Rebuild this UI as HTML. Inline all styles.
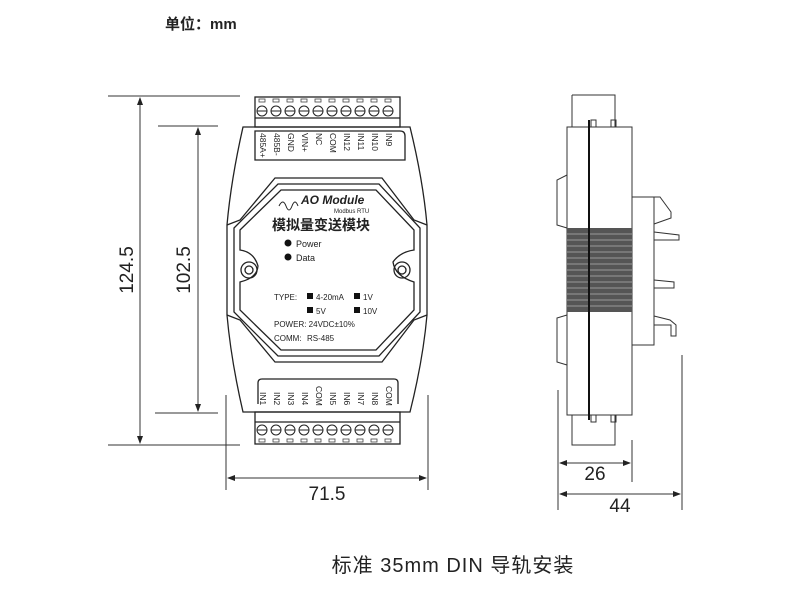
<!DOCTYPE html>
<html><head><meta charset="utf-8"><style>
body{margin:0;background:#fff;width:788px;height:600px;overflow:hidden}
svg{display:block}
text{font-family:"Liberation Sans","Noto Sans CJK SC",sans-serif;fill:#222}
</style></head><body>
<svg width="788" height="600" viewBox="0 0 788 600" xmlns="http://www.w3.org/2000/svg">
<defs>
<marker id="a" markerWidth="8" markerHeight="6" refX="7" refY="3" orient="auto-start-reverse" markerUnits="userSpaceOnUse"><path d="M0,0 L8,3 L0,6z" fill="#222"/></marker>
<g id="scr"><circle cx="0" cy="0" r="5" fill="none" stroke="#222"/><line x1="-5" y1="0" x2="5" y2="0" stroke="#222"/></g>
</defs>
<text x="165" y="29" font-size="15" font-weight="bold" font-family="Noto Sans CJK SC">单位：mm</text>

<g stroke="#333" stroke-width="1" fill="none">
<line x1="108" y1="96" x2="240" y2="96"/>
<line x1="108" y1="445" x2="240" y2="445"/>
<line x1="158" y1="126" x2="218" y2="126"/>
<line x1="155" y1="413" x2="218" y2="413"/>
<line x1="140" y1="98" x2="140" y2="443" marker-start="url(#a)" marker-end="url(#a)"/>
<line x1="198" y1="128" x2="198" y2="411" marker-start="url(#a)" marker-end="url(#a)"/>
<line x1="226" y1="395" x2="226" y2="490"/>
<line x1="428" y1="395" x2="428" y2="490"/>
<line x1="228" y1="478" x2="426" y2="478" marker-start="url(#a)" marker-end="url(#a)"/>
<line x1="558" y1="390" x2="558" y2="510"/>
<line x1="632" y1="440" x2="632" y2="482"/>
<line x1="682" y1="355" x2="682" y2="510"/>
<line x1="560" y1="463" x2="630" y2="463" marker-start="url(#a)" marker-end="url(#a)"/>
<line x1="560" y1="494" x2="680" y2="494" marker-start="url(#a)" marker-end="url(#a)"/>
</g>
<text x="133" y="270" font-size="19" transform="rotate(-90 133 270)" text-anchor="middle">124.5</text>
<text x="190" y="270" font-size="19" transform="rotate(-90 190 270)" text-anchor="middle">102.5</text>
<text x="327" y="500" font-size="19" text-anchor="middle">71.5</text>
<text x="595" y="480" font-size="19" text-anchor="middle">26</text>
<text x="620" y="512" font-size="19" text-anchor="middle">44</text>

<g stroke="#222" fill="none" stroke-width="1.3">
<path d="M243,127 L410,127 Q423,180 427,225 L427,315 Q423,360 410,412 L243,412 Q231,360 227,315 L227,225 Q231,180 243,127Z"/>
<path d="M227,225 L240,220 L275,178 L382,178 L414,220 L427,225"/>
<path d="M227,315 L240,320 L275,362 L382,362 L414,320 L427,315"/>
<path d="M234,228 L278,184 L379,184 L420,228 L420,312 L379,356 L278,356 L234,312Z"/>
<path d="M240,230 L281,190 L376,190 L414,230 L414,250 Q400,252 393,262 Q395,276 414,282 L414,310 L376,350 L281,350 L240,310 L240,282 Q257,278 258,266 Q254,252 240,250Z"/>
<circle cx="249" cy="270" r="8"/><circle cx="249" cy="270" r="4"/>
<circle cx="402" cy="270" r="8"/><circle cx="402" cy="270" r="4"/>
<path d="M255,131 L400,131 Q405,131 405,136 L405,160 L255,160Z"/>
<path d="M258,404 L258,383 Q258,379 262,379 L394,379 Q398,379 398,383 L398,404"/>
<rect x="255" y="97" width="145" height="30"/>
<line x1="255" y1="118" x2="400" y2="118"/>
<rect x="255" y="412" width="145" height="32"/>
<line x1="255" y1="422" x2="400" y2="422"/>
</g>
<g>
<use href="#scr" x="262" y="111"/><use href="#scr" x="276" y="111"/><use href="#scr" x="290" y="111"/><use href="#scr" x="304" y="111"/><use href="#scr" x="318" y="111"/><use href="#scr" x="332" y="111"/><use href="#scr" x="346" y="111"/><use href="#scr" x="360" y="111"/><use href="#scr" x="374" y="111"/><use href="#scr" x="388" y="111"/>
<use href="#scr" x="262" y="430"/><use href="#scr" x="276" y="430"/><use href="#scr" x="290" y="430"/><use href="#scr" x="304" y="430"/><use href="#scr" x="318" y="430"/><use href="#scr" x="332" y="430"/><use href="#scr" x="346" y="430"/><use href="#scr" x="360" y="430"/><use href="#scr" x="374" y="430"/><use href="#scr" x="388" y="430"/>
</g>
<g fill="none" stroke="#444" stroke-width="0.8">
<rect x="259" y="99" width="6" height="3"/><rect x="273" y="99" width="6" height="3"/><rect x="287" y="99" width="6" height="3"/><rect x="301" y="99" width="6" height="3"/><rect x="315" y="99" width="6" height="3"/><rect x="329" y="99" width="6" height="3"/><rect x="343" y="99" width="6" height="3"/><rect x="357" y="99" width="6" height="3"/><rect x="371" y="99" width="6" height="3"/><rect x="385" y="99" width="6" height="3"/>
<rect x="259" y="439" width="6" height="3"/><rect x="273" y="439" width="6" height="3"/><rect x="287" y="439" width="6" height="3"/><rect x="301" y="439" width="6" height="3"/><rect x="315" y="439" width="6" height="3"/><rect x="329" y="439" width="6" height="3"/><rect x="343" y="439" width="6" height="3"/><rect x="357" y="439" width="6" height="3"/><rect x="371" y="439" width="6" height="3"/><rect x="385" y="439" width="6" height="3"/>
</g>
<g font-size="8.5" fill="#333">
<text transform="translate(260,133) rotate(90)">485A+</text>
<text transform="translate(274,133) rotate(90)">485B-</text>
<text transform="translate(288,133) rotate(90)">GND</text>
<text transform="translate(302,133) rotate(90)">VIN+</text>
<text transform="translate(316,133) rotate(90)">NC</text>
<text transform="translate(330,133) rotate(90)">COM</text>
<text transform="translate(344,133) rotate(90)">IN12</text>
<text transform="translate(358,133) rotate(90)">IN11</text>
<text transform="translate(372,133) rotate(90)">IN10</text>
<text transform="translate(386,133) rotate(90)">IN9</text>
<text transform="translate(260,392) rotate(90)">IN1</text>
<text transform="translate(274,392) rotate(90)">IN2</text>
<text transform="translate(288,392) rotate(90)">IN3</text>
<text transform="translate(302,392) rotate(90)">IN4</text>
<text transform="translate(316,386) rotate(90)">COM</text>
<text transform="translate(330,392) rotate(90)">IN5</text>
<text transform="translate(344,392) rotate(90)">IN6</text>
<text transform="translate(358,392) rotate(90)">IN7</text>
<text transform="translate(372,392) rotate(90)">IN8</text>
<text transform="translate(386,386) rotate(90)">COM</text>
</g>
<path d="M279,206 q4,-8 7,0 q3,8 6,0 q3,-8 6,0" stroke="#222" fill="none"/>
<text x="301" y="204" font-size="12" font-style="italic" font-weight="bold">AO Module</text>
<text x="334" y="213" font-size="6">Modbus RTU</text>
<text x="272" y="230" font-size="14" font-weight="bold" font-family="Noto Sans CJK SC">模拟量变送模块</text>
<circle cx="288" cy="243" r="3.5" fill="#111"/><text x="296" y="247" font-size="9">Power</text>
<circle cx="288" cy="257" r="3.5" fill="#111"/><text x="296" y="261" font-size="9">Data</text>
<g font-size="8">
<text x="274" y="300">TYPE:</text>
<rect x="307" y="293" width="6" height="6" fill="#111"/><text x="316" y="300">4-20mA</text>
<rect x="354" y="293" width="6" height="6" fill="#111"/><text x="363" y="300">1V</text>
<rect x="307" y="307" width="6" height="6" fill="#111"/><text x="316" y="314">5V</text>
<rect x="354" y="307" width="6" height="6" fill="#111"/><text x="363" y="314">10V</text>
<text x="274" y="327">POWER: 24VDC±10%</text>
<text x="274" y="341">COMM:</text><text x="307" y="341">RS-485</text>
</g>

<g stroke="#333" fill="none" stroke-width="1">
<rect x="567" y="127" width="65" height="288"/>
<path d="M572,95 L615,95 L615,127 M572,95 L572,127"/>
<path d="M572,415 L572,445 L615,445 L615,415"/>
<rect x="591" y="120" width="5" height="7"/><rect x="611" y="120" width="5" height="7"/>
<rect x="591" y="415" width="5" height="7"/><rect x="611" y="415" width="5" height="7"/>
<path d="M567,175 L557,180 L557,225 L567,228"/>
<path d="M567,315 L557,318 L557,362 L567,365"/>
<rect x="632" y="197" width="22" height="148"/>
<path d="M654,197 L660,197 L671,212 L671,218 L654,224 M654,232 L679,235 L679,240 L654,240 M654,280 L674,282 L674,288 L654,288 M654,316 L670,320 L676,325 L676,336 L671,336 L671,325 L654,325"/>
</g>
<rect x="567" y="228" width="65" height="84" fill="#555"/>
<g stroke="#999" stroke-width="1">
<line x1="567" y1="234" x2="632" y2="234"/><line x1="567" y1="240" x2="632" y2="240"/><line x1="567" y1="246" x2="632" y2="246"/><line x1="567" y1="252" x2="632" y2="252"/><line x1="567" y1="258" x2="632" y2="258"/><line x1="567" y1="264" x2="632" y2="264"/><line x1="567" y1="270" x2="632" y2="270"/><line x1="567" y1="276" x2="632" y2="276"/><line x1="567" y1="282" x2="632" y2="282"/><line x1="567" y1="288" x2="632" y2="288"/><line x1="567" y1="294" x2="632" y2="294"/><line x1="567" y1="300" x2="632" y2="300"/><line x1="567" y1="306" x2="632" y2="306"/>
</g>
<line x1="589" y1="120" x2="589" y2="420" stroke="#111" stroke-width="2"/>

<text x="453" y="572" font-size="20" text-anchor="middle" letter-spacing="1" font-family="Noto Sans CJK SC">标准 35mm DIN 导轨安装</text>
</svg>
</body></html>
